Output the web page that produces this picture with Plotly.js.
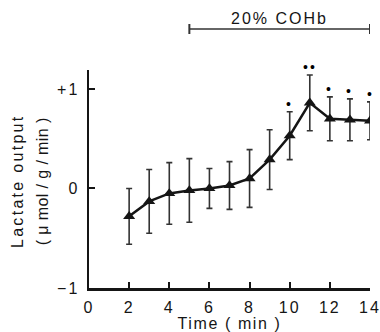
<!DOCTYPE html>
<html>
<head>
<meta charset="utf-8">
<script src="https://cdn.plot.ly/plotly-3.0.1.min.js"></script>
<style>
  html, body { margin: 0; padding: 0; background: #fff; }
  #chart { width: 380px; height: 332px; }
  .main-svg text { letter-spacing: 2px; }
  .main-svg text.xtitle { letter-spacing: 1.6px; }
  .main-svg text.ytitle-1 { letter-spacing: 2.3px; }
  .main-svg text.ytitle-2 { letter-spacing: 0.4px; }
</style>
</head>
<body>
<div id="chart"></div>
<script>
// Data
const timeMin = [2, 3, 4, 5, 6, 7, 8, 9, 10, 11, 12, 13, 14];
const lactate = [-0.28, -0.13, -0.05, -0.02, 0.0, 0.03, 0.10, 0.29, 0.53, 0.86, 0.70, 0.69, 0.68];
const lactateErr = [0.28, 0.32, 0.31, 0.32, 0.20, 0.24, 0.29, 0.30, 0.24, 0.28, 0.22, 0.21, 0.19];
const sigTime = [10, 11, 12, 13, 14];
const sigMarks = ['•', '••', '•', '•', '•'];
const xTickVals = [0, 2, 4, 6, 8, 10, 12, 14];
const yTickVals = [-1, 0, 1];
const yTickText = ['\u22121', '0', '+1'];
const exposureStart = 5;
const exposureEnd = 14;
const exposureLabel = '20% COHb';

const FONT = '"Liberation Sans", Arial, sans-serif';
const INK = '#151515';

const trace = {
  x: timeMin,
  y: lactate,
  type: 'scatter',
  mode: 'lines+markers',
  line: { color: INK, width: 2.5, shape: 'linear' },
  marker: { symbol: 'triangle-up', size: 10.5, color: INK },
  error_y: { type: 'data', array: lactateErr, visible: true, color: '#333', thickness: 1.6, width: 3 },
  hoverinfo: 'skip',
  showlegend: false
};

const annotations = [];
sigTime.forEach((t, i) => {
  const idx = timeMin.indexOf(t);
  annotations.push({
    x: t, y: lactate[idx] + lactateErr[idx], xref: 'x', yref: 'y',
    text: sigMarks[i], showarrow: false, yanchor: 'middle', yshift: 8,
    font: { family: FONT, size: 14, color: '#000' }
  });
});
annotations.push({
  x: (exposureStart + exposureEnd) / 2, y: 1.238, xref: 'x', yref: 'paper',
  text: exposureLabel, showarrow: false, xanchor: 'center', yanchor: 'middle',
  font: { family: FONT, size: 16, color: INK }
});
// y-axis title as two rotated lines
annotations.push({
  x: -0.257, y: 0.49, xref: 'paper', yref: 'paper',
  text: 'Lactate output', showarrow: false, textangle: -90,
  xanchor: 'center', yanchor: 'middle',
  font: { family: FONT, size: 16, color: INK }
});
annotations.push({
  x: -0.165, y: 0.487, xref: 'paper', yref: 'paper',
  text: '( \u03bc mol / g / min )', showarrow: false, textangle: -90,
  xanchor: 'center', yanchor: 'middle',
  font: { family: FONT, size: 16, color: INK }
});

const shapes = [
  { type: 'line', xref: 'x', yref: 'paper', x0: exposureStart, x1: exposureEnd, y0: 1.188, y1: 1.188,
    line: { color: '#333', width: 1.6 } },
  { type: 'line', xref: 'x', yref: 'paper', x0: exposureStart, x1: exposureStart, y0: 1.165, y1: 1.211,
    line: { color: '#333', width: 2 } },
  { type: 'line', xref: 'x', yref: 'paper', x0: exposureEnd, x1: exposureEnd, y0: 1.165, y1: 1.211,
    line: { color: '#333', width: 2 } }
];

const layout = {
  width: 380, height: 332,
  margin: { l: 89, r: 10, t: 70, b: 44, pad: 0 },
  paper_bgcolor: '#fff', plot_bgcolor: '#fff',
  font: { family: FONT, size: 16, color: INK },
  showlegend: false,
  xaxis: {
    range: [0, 14], tickvals: xTickVals, ticks: 'inside', ticklen: 6, tickwidth: 2,
    tickcolor: INK, showline: true, linecolor: INK, linewidth: 2.5, showgrid: false,
    zeroline: false, ticklabelstandoff: 3, tickfont: { family: FONT, size: 16, color: INK },
    title: { text: 'Time ( min )', font: { family: FONT, size: 16, color: INK }, standoff: 3 },
    fixedrange: true
  },
  yaxis: {
    range: [-1, 1.19], tickvals: yTickVals, ticktext: yTickText, ticks: 'inside', ticklen: 6,
    tickwidth: 2, tickcolor: INK, showline: true, linecolor: INK, linewidth: 2.5,
    showgrid: false, zeroline: false, ticklabelstandoff: 4,
    tickfont: { family: FONT, size: 16, color: INK }, fixedrange: true
  },
  annotations: annotations,
  shapes: shapes
};

Plotly.newPlot('chart', [trace], layout, { displayModeBar: false, staticPlot: true }).then(() => {
  document.querySelectorAll('.annotation-text').forEach(el => {
    if (/Lactate/.test(el.textContent)) el.classList.add('ytitle-1');
    if (/mol/.test(el.textContent)) el.classList.add('ytitle-2');
  });
});
</script>
</body>
</html>
